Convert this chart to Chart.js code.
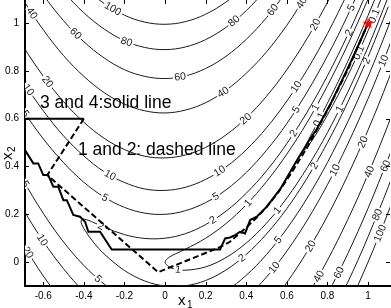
<!DOCTYPE html>
<html>
<head>
<meta charset="utf-8">
<script src="https://cdn.jsdelivr.net/npm/chart.js@4.4.0/dist/chart.umd.min.js"></script>
<style>
html, body { margin: 0; padding: 0; background: #fff; }
canvas { display: block; }
</style>
</head>
<body>
<canvas id="chart" width="391" height="308"></canvas>
<script>
const FONT = "'Liberation Sans', Arial, Helvetica, sans-serif";

// axis ticks
const xTicks = [-0.6, -0.4, -0.2, 0, 0.2, 0.4, 0.6, 0.8, 1];
const xTickLabels = ['-0.6', '-0.4', '-0.2', '0', '0.2', '0.4', '0.6', '0.8', '1'];
const yTicks = [0, 0.2, 0.4, 0.6, 0.8, 1];
const yTickLabels = ['0', '0.2', '0.4', '0.6', '0.8', '1'];

// contour lines, [x1, x2]
const c100Up = [[-0.5,1.239],[-0.4,1.150],[-0.3,1.082],[-0.2,1.033],[-0.1,1.004],[0,0.995],[0.1,1.006],[0.2,1.037],[0.3,1.088],[0.4,1.158],[0.5,1.249]];
const c100Lo = [[0.85,-0.277],[0.9,-0.190],[0.95,-0.097],[1.0,0.0],[1.05,0.103],[1.1,0.210],[1.15,0.323],[1.2,0.440]];
const c80Up = [[-0.6,1.240],[-0.5,1.132],[-0.4,1.043],[-0.3,0.975],[-0.2,0.926],[-0.1,0.898],[0,0.889],[0.1,0.900],[0.2,0.931],[0.3,0.982],[0.4,1.052],[0.5,1.143]];
const c80Lo = [[0.8,-0.254],[0.85,-0.172],[0.9,-0.084],[0.95,0.008],[1.0,0.106],[1.05,0.209],[1.1,0.316],[1.15,0.428]];
const c60Up = [[-0.7,1.246],[-0.6,1.118],[-0.5,1.010],[-0.4,0.922],[-0.3,0.854],[-0.2,0.805],[-0.1,0.777],[0,0.768],[0.1,0.779],[0.2,0.810],[0.3,0.861],[0.4,0.932],[0.5,1.023],[0.6,1.134]];
const c60Lo = [[0.7,-0.284],[0.75,-0.212],[0.8,-0.134],[0.85,-0.052],[0.9,0.035],[0.95,0.128],[1.0,0.225],[1.05,0.328],[1.1,0.435],[1.15,0.548]];
const c40Up = [[-0.8,1.246],[-0.7,1.099],[-0.6,0.972],[-0.5,0.864],[-0.4,0.777],[-0.3,0.709],[-0.2,0.661],[-0.1,0.633],[0,0.624],[0.1,0.636],[0.2,0.667],[0.3,0.719],[0.4,0.790],[0.5,0.880],[0.6,0.991],[0.7,1.122]];
const c40Lo = [[0.6,-0.271],[0.65,-0.210],[0.7,-0.142],[0.75,-0.070],[0.8,0.008],[0.85,0.090],[0.9,0.178],[0.95,0.270],[1.0,0.368],[1.05,0.470],[1.1,0.578],[1.15,0.690]];
const c20Up = [[-0.8,1.049],[-0.7,0.904],[-0.6,0.778],[-0.5,0.671],[-0.4,0.585],[-0.3,0.518],[-0.2,0.471],[-0.1,0.443],[0,0.436],[0.1,0.448],[0.2,0.480],[0.3,0.532],[0.4,0.603],[0.5,0.694],[0.6,0.805],[0.7,0.936],[0.8,1.087],[0.9,1.257]];
const c20Lo = [[-0.8,0.231],[-0.75,0.151],[-0.7,0.076],[-0.65,0.007],[-0.6,-0.058],[-0.5,-0.171],[-0.4,-0.265],[-0.2,-0.391],[0,-0.436],[0.2,-0.400],[0.3,-0.352],[0.4,-0.283],[0.5,-0.194],[0.6,-0.085],[0.7,0.044],[0.8,0.193],[0.9,0.363],[1.0,0.553],[1.1,0.763],[1.2,0.993]];
const c10Up = [[-0.8,0.900],[-0.7,0.757],[-0.6,0.633],[-0.5,0.528],[-0.4,0.444],[-0.3,0.378],[-0.2,0.333],[-0.1,0.306],[0,0.300],[0.1,0.313],[0.2,0.346],[0.3,0.398],[0.4,0.470],[0.5,0.562],[0.6,0.674],[0.7,0.805],[0.8,0.956],[0.9,1.126]];
const c10Lo = [[-0.8,0.380],[-0.7,0.223],[-0.6,0.087],[-0.5,-0.028],[-0.4,-0.124],[-0.3,-0.198],[-0.2,-0.253],[-0.1,-0.286],[0,-0.300],[0.1,-0.293],[0.2,-0.266],[0.3,-0.218],[0.4,-0.150],[0.5,-0.062],[0.6,0.046],[0.7,0.175],[0.8,0.324],[0.9,0.494],[1.0,0.684],[1.1,0.894],[1.2,1.124]];
const c5Up = [[-0.8,0.773],[-0.7,0.635],[-0.6,0.516],[-0.5,0.416],[-0.4,0.334],[-0.3,0.272],[-0.2,0.229],[-0.1,0.205],[0,0.200],[0.1,0.215],[0.2,0.249],[0.3,0.302],[0.4,0.375],[0.5,0.468],[0.6,0.580],[0.7,0.712],[0.8,0.863],[0.9,1.033],[1.0,1.224]];
const c5Lo = [[-0.8,0.507],[-0.7,0.345],[-0.6,0.204],[-0.5,0.084],[-0.4,-0.014],[-0.3,-0.092],[-0.2,-0.149],[-0.1,-0.185],[0,-0.200],[0.1,-0.195],[0.2,-0.169],[0.3,-0.122],[0.4,-0.055],[0.5,0.032],[0.6,0.140],[0.7,0.268],[0.8,0.417],[0.9,0.587],[1.0,0.776],[1.1,0.987],[1.2,1.217]];
const c2Loop = [[1.1,1.069],[1.0,0.859],[0.9,0.669],[0.8,0.500],[0.7,0.352],[0.6,0.224],[0.5,0.118],[0.4,0.032],[0.3,-0.033],[0.2,-0.077],[0.1,-0.099],[0,-0.100],[-0.1,-0.079],[-0.2,-0.035],[-0.3,0.034],[-0.35,0.080],[-0.4,0.140],[-0.414,0.172],[-0.4,0.180],[-0.35,0.165],[-0.3,0.146],[-0.2,0.115],[-0.1,0.099],[0,0.100],[0.1,0.119],[0.2,0.157],[0.3,0.213],[0.4,0.288],[0.5,0.382],[0.6,0.496],[0.7,0.628],[0.8,0.780],[0.9,0.951],[1.0,1.141]];
const c1Loop = [[1.1,1.111],[1.0,0.900],[0.9,0.711],[0.8,0.542],[0.7,0.395],[0.6,0.268],[0.5,0.163],[0.4,0.080],[0.3,0.019],[0.2,-0.020],[0.1,-0.034],[0.05,-0.029],[0.02,-0.020],[0,0],[0.02,0.020],[0.05,0.034],[0.1,0.054],[0.2,0.100],[0.3,0.161],[0.4,0.240],[0.5,0.337],[0.6,0.452],[0.7,0.585],[0.8,0.738],[0.9,0.910],[1.0,1.100]];
const c01Loop = [[1.1,1.180],[1.05,1.071],[1.0,0.968],[0.95,0.871],[0.9,0.780],[0.85,0.695],[0.8,0.616],[0.75,0.543],[0.7,0.480],[0.684,0.468],[0.7,0.500],[0.75,0.582],[0.8,0.665],[0.85,0.750],[0.9,0.840],[0.95,0.934],[1.0,1.032],[1.05,1.134]];

const contourSets = [
    ['100', c100Up], ['100', c100Lo], ['80', c80Up], ['80', c80Lo],
    ['60', c60Up], ['60', c60Lo], ['40', c40Up], ['40', c40Lo],
    ['20', c20Up], ['20', c20Lo], ['10', c10Up], ['10', c10Lo],
    ['5', c5Up], ['5', c5Lo], ['2', c2Loop], ['1', c1Loop], ['0.1', c01Loop]
];

// search paths
const path34 = [[-0.4,0.6],[-0.70,0.6],[-0.70,0.49],[-0.690,0.469],[-0.649,0.413],[-0.625,0.413],[-0.600,0.364],[-0.576,0.364],[-0.550,0.315],[-0.526,0.315],[-0.501,0.259],[-0.484,0.259],[-0.452,0.197],[-0.419,0.190],[-0.394,0.169],[-0.378,0.127],[-0.320,0.127],[-0.263,0.053],[0.271,0.053],[0.296,0.099],[0.320,0.103],[0.345,0.113],[0.369,0.127],[0.394,0.120],[0.419,0.176],[0.452,0.190],[0.501,0.232],[0.567,0.305],[0.649,0.425],[0.714,0.515],[0.747,0.556],[0.813,0.658],[0.878,0.772],[0.928,0.862],[0.969,0.939],[1,1]];
const path12 = [[-0.4,0.6],[-0.58,0.364],[-0.034,-0.042],[0.261,0.059],[0.32,0.085],[0.40,0.145],[0.45,0.185],[0.50,0.230],[0.56,0.295],[0.62,0.370],[0.70,0.480],[0.80,0.635],[0.90,0.805],[1,1]];
const optimum = [[1, 1]];

// inline contour labels [text, x1, x2]
const contourLabels = [
    ['40',-0.655,1.042],['100',-0.261,1.054],['60',-0.438,0.958],['80',-0.192,0.916],
    ['60',0.074,0.774],['20',-0.581,0.753],['10',-0.675,0.72],['5',-0.685,0.623],
    ['80',0.335,1.013],['60',0.532,1.054],['40',0.675,1.084],['20',0.744,0.992],
    ['5',0.921,1.063],['0.1',1.03,1.03],['40',0.286,0.711],['10',0.650,0.732],
    ['20',0.394,0.603],['5',0.650,0.636],['1',0.739,0.649],['0.1',0.764,0.594],
    ['2',0.631,0.540],['0.1',0.961,0.874],['2',0.985,0.845],['1',0.872,0.636],
    ['10',1.069,0.845],['20',0.975,0.502],['10',-0.271,0.364],['5',-0.296,0.268],
    ['2',-0.320,0.142],['5',-0.680,0.331],['10',-0.606,0.092],['20',-0.680,0.038],
    ['5',-0.335,-0.075],['1',0.064,-0.033],['10',0.271,0.377],['5',0.246,0.280],
    ['2',0.236,0.176],['1',0.409,0.247],['2',0.729,0.406],['10',0.837,0.385],
    ['40',1.01,0.377],['60',1.074,0.406],['1',0.552,0.218],['5',0.557,0.092],
    ['2',0.379,0.017],['10',0.542,-0.025],['20',0.724,0.063],['40',0.764,-0.063],
    ['60',0.852,-0.042],['80',1.049,0.197],['100',1.059,0.121],['2',0.90,0.962]
];

const notes = [['3 and 4:solid line', -0.616, 0.644], ['1 and 2: dashed line', -0.429, 0.448]];

const toXY = pts => pts.map(p => ({ x: p[0], y: p[1] }));

// red filled star marker
function makeStar() {
    const c = document.createElement('canvas');
    c.width = 13; c.height = 13;
    const g = c.getContext('2d');
    g.fillStyle = '#ff0000';
    g.beginPath();
    for (let i = 0; i < 10; i++) {
        const r = i % 2 === 0 ? 6 : 2.5;
        const a = -Math.PI / 2 + i * Math.PI / 5;
        const px = 6.5 + r * Math.cos(a), py = 7 + r * Math.sin(a);
        if (i === 0) g.moveTo(px, py); else g.lineTo(px, py);
    }
    g.closePath();
    g.fill();
    return c;
}

const datasets = [
    { data: toXY(optimum), showLine: false, pointStyle: makeStar(), pointRadius: 5 },
    { data: toXY(path34), showLine: true, borderColor: '#000', borderWidth: 2, pointRadius: 0, tension: 0, clip: 0 },
    { data: toXY(path12), showLine: true, borderColor: '#000', borderWidth: 2, borderDash: [6, 3], pointRadius: 0, tension: 0, clip: 0 }
];
contourSets.forEach(([lvl, pts]) => {
    datasets.push({ data: toXY(pts), showLine: true, borderColor: '#1a1a1a', borderWidth: 1, pointRadius: 0, tension: 0.35, clip: 0 });
});
const FIRST_CONTOUR = 3;

// labels sit on the nearest contour segment, rotated along it
const labelPlugin = {
    id: 'contourLabels',
    afterDatasetDraw(chart, args) {
        if (args.index !== FIRST_CONTOUR) return;
        const { ctx, chartArea: a } = chart;
        const sx = chart.scales.x, sy = chart.scales.y;
        ctx.save();
        ctx.beginPath();
        ctx.rect(a.left, a.top, a.right - a.left, a.bottom - a.top);
        ctx.clip();
        ctx.font = '10.5px ' + FONT;
        ctx.textAlign = 'center';
        ctx.textBaseline = 'middle';
        contourLabels.forEach(([t, lx, ly]) => {
            const px = sx.getPixelForValue(lx), py = sy.getPixelForValue(ly);
            let best = null;
            contourSets.forEach(([lvl, pts]) => {
                if (lvl !== t) return;
                for (let i = 0; i < pts.length - 1; i++) {
                    const x0 = sx.getPixelForValue(pts[i][0]), y0 = sy.getPixelForValue(pts[i][1]);
                    const x1 = sx.getPixelForValue(pts[i + 1][0]), y1 = sy.getPixelForValue(pts[i + 1][1]);
                    const dx = x1 - x0, dy = y1 - y0;
                    const len2 = dx * dx + dy * dy || 1;
                    let u = ((px - x0) * dx + (py - y0) * dy) / len2;
                    u = Math.max(0, Math.min(1, u));
                    const qx = x0 + u * dx, qy = y0 + u * dy;
                    const d = (qx - px) ** 2 + (qy - py) ** 2;
                    if (!best || d < best.d) best = { d, qx, qy, ang: Math.atan2(dy, dx) };
                }
            });
            if (!best) return;
            let ang = best.ang;
            if (ang > Math.PI / 2) ang -= Math.PI;
            if (ang < -Math.PI / 2) ang += Math.PI;
            ctx.save();
            ctx.translate(best.qx, best.qy);
            ctx.rotate(ang);
            const w = ctx.measureText(t).width;
            ctx.fillStyle = '#fff';
            ctx.fillRect(-w / 2 - 1.5, -3.5, w + 3, 7);
            ctx.fillStyle = '#222';
            ctx.fillText(t, 0, 0.5);
            ctx.restore();
        });
        ctx.restore();
    }
};

// inward tick marks, annotations and axis titles
const decorPlugin = {
    id: 'decor',
    afterDraw(chart) {
        const { ctx, chartArea: a } = chart;
        const sx = chart.scales.x, sy = chart.scales.y;
        ctx.save();
        ctx.strokeStyle = '#000';
        ctx.lineWidth = 1;
        ctx.beginPath();
        xTicks.forEach(v => {
            const p = Math.round(sx.getPixelForValue(v)) + 0.5;
            ctx.moveTo(p, a.bottom); ctx.lineTo(p, a.bottom - 4);
            ctx.moveTo(p, a.top); ctx.lineTo(p, a.top + 4);
        });
        yTicks.forEach(v => {
            const p = Math.round(sy.getPixelForValue(v)) + 0.5;
            ctx.moveTo(a.left, p); ctx.lineTo(a.left + 4, p);
            ctx.moveTo(a.right, p); ctx.lineTo(a.right - 4, p);
        });
        ctx.stroke();

        ctx.fillStyle = '#000';
        ctx.font = '17.5px ' + FONT;
        ctx.textAlign = 'left';
        ctx.textBaseline = 'alphabetic';
        notes.forEach(([t, x, y]) => ctx.fillText(t, sx.getPixelForValue(x), sy.getPixelForValue(y)));

        // x1 title
        ctx.font = '15px ' + FONT;
        ctx.fillText('x', a.left + 153, a.bottom + 19);
        ctx.font = '10px ' + FONT;
        ctx.fillText('1', a.left + 162, a.bottom + 22);

        // x2 title
        ctx.translate(12, 160);
        ctx.rotate(-Math.PI / 2);
        ctx.font = '15px ' + FONT;
        ctx.fillText('x', 0, 0);
        ctx.font = '10px ' + FONT;
        ctx.fillText('2', 8, 3);
        ctx.restore();
    }
};

const chart = new Chart(document.getElementById('chart').getContext('2d'), {
    type: 'scatter',
    data: { datasets: datasets },
    options: {
        responsive: false,
        animation: false,
        devicePixelRatio: 1,
        layout: { autoPadding: false, padding: { left: 0, right: 1, top: 0, bottom: 0 } },
        plugins: { legend: { display: false }, tooltip: { enabled: false } },
        scales: {
            x: {
                type: 'linear',
                min: -0.69,
                max: 1.108,
                bounds: 'data',
                afterBuildTicks: s => { s.ticks = xTicks.map(v => ({ value: v })); },
                afterFit: s => { s.height = 22; s.paddingLeft = 0; s.paddingRight = 0; s.paddingTop = 0; s.paddingBottom = 0; },
                grid: { display: false, drawTicks: false },
                border: { display: true, color: '#000', width: 2 },
                ticks: {
                    padding: 4,
                    autoSkip: false,
                    maxRotation: 0,
                    color: '#000',
                    font: { family: FONT, size: 10 },
                    callback: (v, i) => xTickLabels[i]
                }
            },
            y: {
                type: 'linear',
                min: -0.1,
                max: 1.0966,
                bounds: 'data',
                afterBuildTicks: s => { s.ticks = yTicks.map(v => ({ value: v })); },
                afterFit: s => { s.width = 25; s.paddingLeft = 0; s.paddingRight = 0; s.paddingTop = 0; s.paddingBottom = 0; },
                grid: { display: false, drawTicks: false },
                border: { display: true, color: '#000', width: 2 },
                ticks: {
                    padding: 6,
                    autoSkip: false,
                    color: '#000',
                    font: { family: FONT, size: 10 },
                    callback: (v, i) => yTickLabels[i]
                }
            }
        }
    },
    plugins: [labelPlugin, decorPlugin]
});
</script>
</body>
</html>
